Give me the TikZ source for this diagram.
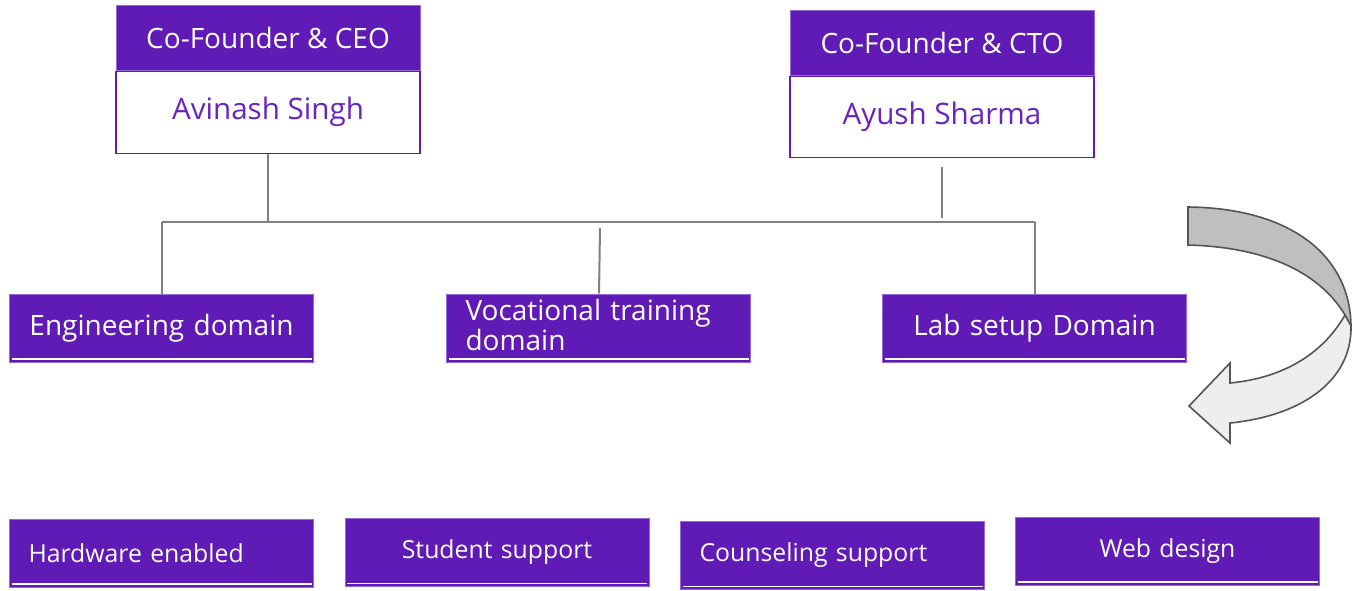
\documentclass[tikz,border=0pt]{standalone}
\usepackage{fontspec}
\setmainfont{Open Sans}
\usetikzlibrary{positioning, calc}
\definecolor{boxpurple}{RGB}{96,26,182}
\definecolor{edgepurple}{RGB}{150,105,215}
\definecolor{namepurple}{RGB}{104,36,192}
\definecolor{linegray}{RGB}{128,128,128}
\definecolor{ribbondark}{RGB}{191,191,191}
\definecolor{ribbonlight}{RGB}{238,238,238}
\definecolor{ribbonedge}{RGB}{85,85,85}

\begin{document}
\begin{tikzpicture}[
				x=0.5pt, y=-0.5pt,
				link/.style={draw=linegray, line width=1pt},
				underline/.style={
					path picture={
						\draw[white, line width=0.8pt]
						([xshift=1pt, yshift=1.6pt]path picture bounding box.south west) --
						([xshift=-1pt, yshift=1.6pt]path picture bounding box.south east);
					}
				}
			]
			\tikzstyle{Node} = [ %plain purple box
				fill=boxpurple,
				draw=edgepurple,
				line width=0.5pt,
				text=white,
				inner sep=0pt
			]
			\tikzstyle{HeadNode} = [
				Node,
				minimum width=152pt,
				font=\fontsize{14}{16}\selectfont
			]
			\tikzstyle{NameNode} = [
				fill=white,
				draw=boxpurple,
				line width=0.8pt,
				text=namepurple,
				minimum width=152pt,
				font=\fontsize{14.8}{16}\selectfont
			]
			\tikzstyle{UnitNode} = [
				Node,
				underline,
				inner xsep=9.5pt,
				text width=133pt,
				align=center,
				minimum height=34pt,
				font=\fontsize{14}{15}\selectfont
			]
			\tikzstyle{SmallNode} = [
				UnitNode,
				font=\fontsize{12.4}{14}\selectfont
			]

			\useasboundingbox (0,0) rectangle (1354,590);

			% founders
			\node (ceoH) [HeadNode, minimum height=32.5pt] at (268,37.5) {Co-Founder \& CEO};
			\node (ceoN) [NameNode, minimum height=41pt, below=0pt of ceoH] {Avinash Singh};
			\node (ctoH) [HeadNode, minimum height=32.5pt] at (942,42.5) {Co-Founder \& CTO};
			\node (ctoN) [NameNode, minimum height=40.5pt, below=0pt of ctoH] {Ayush Sharma};

			% domains
			\node (eng) [UnitNode] at (161.5,328) {Engineering domain};
			\node (voc) [UnitNode, align=left] at (598.5,328) {Vocational training\\domain\vspace{3pt}};
			\node (lab) [UnitNode] at (1034.5,328) {Lab setup Domain};

			% services
			\node (hw) [SmallNode, align=left] at (161.5,553) {Hardware enabled};
			\node (stu) [SmallNode] at (497,552.5) {Student support};
			\node (cou) [SmallNode, align=left] at (832.5,555.5) {Counseling support};
			\node (web) [SmallNode] at (1167.5,551) {Web design};

			% connectors
			\coordinate (jL) at (162,222);
			\coordinate (jR) at (1035,222);
			\coordinate (jV) at (600,228);
			\draw[link] (jL) -- (jR);
			\draw[link] (ceoN.south) -- (ceoN.south |- jL);
			\draw[link, shorten <=4.5pt, shorten >=2pt] (ctoN.south) -- (ctoN.south |- jL);
			\draw[link] (jL) -- (eng.north -| jL);
			\draw[link] (jV) -- (voc);
			\draw[link] (jR) -- (lab.north -| jR);

			% curved arrow
			\draw[ribbonedge, line width=0.8pt, fill=ribbondark]
				(1188,207) .. controls (1290,208) and (1350,255) .. (1351,326)
				-- (1345,315) .. controls (1318,270) and (1262,247) .. (1188,245) -- cycle;
			\draw[ribbonedge, line width=0.8pt, fill=ribbonlight]
				(1345,315) .. controls (1322,355) and (1282,378) .. (1230,383)
				-- (1230,363) -- (1189,406) -- (1230,443) -- (1230,423)
				.. controls (1300,416) and (1352,382) .. (1351,326) -- cycle;
		\end{tikzpicture}
\end{document}
